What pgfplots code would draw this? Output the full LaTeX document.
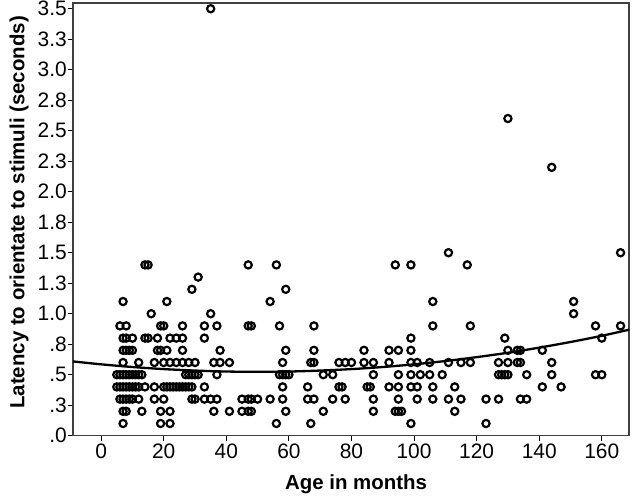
\documentclass[border=0pt]{standalone}
\usepackage{fontspec}
\setmainfont{Liberation Sans}
\usepackage{pgfplots}
\pgfplotsset{compat=1.18}

\begin{document}
\begin{tikzpicture}
\useasboundingbox (-73bp,-64.3bp) rectangle (571bp,435.7bp);
\begin{axis}[
    at={(0,0)}, anchor=south west,
    width=556bp, height=432.7bp, scale only axis,
    xmin=-9, xmax=168.7,
    ymin=0, ymax=3.547,
    tick pos=left,
    tick align=outside,
    major tick length=5bp,
    xtick={0,20,40,60,80,100,120,140,160},
    xticklabels={0,20,40,60,80,100,120,140,160},
    ytick={0,0.25,0.5,0.75,1,1.25,1.5,1.75,2,2.25,2.5,2.75,3,3.25,3.5},
    yticklabels={.0,.3,.5,.8,1.0,1.3,1.5,1.8,2.0,2.3,2.5,2.8,3.0,3.3,3.5},
    ticklabel style={font=\fontsize{21}{24}\selectfont},
    yticklabel style={inner xsep=1bp},
    axis line style={black!75, line width=1.2bp},
    tick style={black, line width=1bp},
    xlabel={Age in months},
    ylabel={Latency to orientate to stimuli (seconds)},
    label style={font=\bfseries\fontsize{20.5}{24}\selectfont},
    xlabel style={at={(axis description cs:0.509,-0.1116)}, anchor=center},
    ylabel style={at={(axis description cs:-0.0971,0.516)}, anchor=center},
]
% observed latencies
\addplot[only marks, mark=o, black, mark size=3.6bp, line width=2.2bp] table {
x y
7 0.1
19 0.1
22 0.1
56 0.1
67 0.1
99 0.1
123 0.1
7 0.2
8 0.2
13 0.2
19 0.2
22 0.2
36 0.2
41 0.2
45 0.2
47 0.2
48 0.2
59 0.2
71 0.2
87 0.2
94 0.2
95 0.2
96 0.2
113 0.2
6 0.3
7 0.3
8 0.3
9 0.3
10 0.3
12 0.3
17 0.3
20 0.3
29 0.3
30 0.3
33 0.3
35 0.3
37 0.3
45 0.3
47 0.3
48 0.3
50 0.3
54 0.3
58 0.3
66 0.3
68 0.3
74 0.3
78 0.3
87 0.3
95 0.3
101 0.3
106 0.3
111 0.3
115 0.3
123 0.3
127 0.3
134 0.3
136 0.3
5 0.4
6 0.4
7 0.4
8 0.4
9 0.4
10 0.4
11 0.4
12 0.4
14 0.4
17 0.4
20 0.4
21 0.4
22 0.4
23 0.4
24 0.4
25 0.4
26 0.4
27 0.4
28 0.4
29 0.4
33 0.4
58 0.4
66 0.4
76 0.4
77 0.4
85 0.4
86 0.4
92 0.4
95 0.4
99 0.4
101 0.4
106 0.4
113 0.4
141 0.4
147 0.4
5 0.5
6 0.5
7 0.5
8 0.5
9 0.5
10 0.5
11 0.5
12 0.5
13 0.5
27 0.5
28 0.5
29 0.5
30 0.5
31 0.5
37 0.5
57 0.5
58 0.5
59 0.5
60 0.5
71 0.5
74 0.5
87 0.5
95 0.5
99 0.5
102 0.5
105 0.5
109 0.5
127 0.5
128 0.5
129 0.5
130 0.5
136 0.5
144 0.5
158 0.5
160 0.5
7 0.6
12 0.6
17 0.6
20 0.6
22 0.6
24 0.6
26 0.6
28 0.6
30 0.6
36 0.6
38 0.6
41 0.6
58 0.6
67 0.6
68 0.6
76 0.6
78 0.6
80 0.6
84 0.6
87 0.6
92 0.6
99 0.6
101 0.6
105 0.6
111 0.6
115 0.6
118 0.6
127 0.6
130 0.6
133 0.6
134 0.6
144 0.6
7 0.7
8 0.7
9 0.7
10 0.7
18 0.7
19 0.7
21 0.7
26 0.7
38 0.7
59 0.7
68 0.7
84 0.7
92 0.7
95 0.7
99 0.7
130 0.7
133 0.7
134 0.7
141 0.7
7 0.8
8 0.8
10 0.8
14 0.8
15 0.8
18 0.8
22 0.8
24 0.8
26 0.8
33 0.8
99 0.8
129 0.8
160 0.8
6 0.9
8 0.9
19 0.9
20 0.9
26 0.9
33 0.9
37 0.9
47 0.9
48 0.9
57 0.9
68 0.9
106 0.9
118 0.9
158 0.9
166 0.9
16 1.0
35 1.0
151 1.0
7 1.1
21 1.1
54 1.1
106 1.1
151 1.1
29 1.2
59 1.2
31 1.3
14 1.4
15 1.4
47 1.4
56 1.4
94 1.4
99 1.4
117 1.4
111 1.5
166 1.5
144 2.2
130 2.6
35 3.5
};
% quadratic fit line
\addplot[black, line width=2.3bp, smooth] coordinates {
(-9,0.609) (0,0.585) (10,0.563) (20,0.546) (30,0.534) (40,0.526)
(50,0.524) (60,0.526) (70,0.534) (80,0.546) (90,0.563) (100,0.585)
(110,0.612) (120,0.644) (130,0.680) (140,0.722) (150,0.768)
(160,0.819) (168.7,0.869)
};
\end{axis}
\end{tikzpicture}
\end{document}
